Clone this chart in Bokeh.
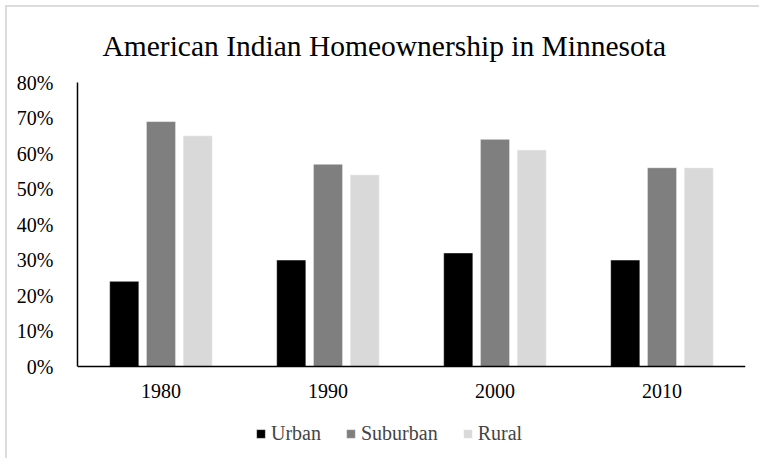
from bokeh.plotting import figure
from bokeh.models import ColumnDataSource, FactorRange, Range1d, Legend, LegendItem, NumeralTickFormatter, FixedTicker, Title, Span
from bokeh.transform import dodge
from bokeh.core.properties import value
from bokeh.embed import file_html
from bokeh.resources import INLINE

years = ["1980", "1990", "2000", "2010"]
urban = [0.24, 0.30, 0.32, 0.30]
suburban = [0.69, 0.57, 0.64, 0.56]
rural = [0.65, 0.54, 0.61, 0.56]
series_names = ["Urban", "Suburban", "Rural"]
colors = ["#000000", "#7f7f7f", "#d9d9d9"]
y_ticks = [0, 0.1, 0.2, 0.3, 0.4, 0.5, 0.6, 0.7, 0.8]

src = ColumnDataSource(dict(year=years, Urban=urban, Suburban=suburban, Rural=rural))

FONT = "Liberation Serif"

# y range extends below zero so the legend and year labels sit inside the frame
p = figure(x_range=FactorRange(factors=years), y_range=Range1d(-0.2535, 0.8),
           width=754, height=453, output_backend="svg", toolbar_location=None,
           min_border_left=70, min_border_right=16, min_border_top=75, min_border_bottom=4)
p.styles = {"margin-left": "5px", "margin-top": "5px",
            "border-left": "2px solid #dcdcdc", "border-top": "2px solid #dcdcdc"}

offsets = [-0.22, 0.0, 0.22]
renderers = []
for name, off, col in zip(series_names, offsets, colors):
    r = p.vbar(x=dodge("year", off, range=p.x_range), top=name, width=0.175, source=src,
               fill_color=col, line_color="white", line_width=1, line_alpha=0.5)
    renderers.append(r)

# x axis line and year labels
p.add_layout(Span(location=0, dimension="width", line_color="black", line_width=1.5))
p.text(x="year", y=-0.07, text="year", source=src, text_font=value(FONT),
       text_font_size="20px", text_align="center", text_baseline="middle", text_color="black")

t = Title(text="American Indian Homeownership in Minnesota", align="left", offset=25,
          text_font=FONT, text_font_size="29.5px", text_font_style="normal",
          text_color="#000000", standoff=41)
p.add_layout(t, "above")

p.xgrid.grid_line_color = None
p.ygrid.grid_line_color = None
p.outline_line_color = None
p.xaxis.visible = False

p.yaxis.ticker = FixedTicker(ticks=y_ticks)
p.yaxis.formatter = NumeralTickFormatter(format="0%")
p.yaxis.bounds = (0, 0.8)
p.yaxis.axis_line_color = "black"
p.yaxis.axis_line_width = 1.5
p.yaxis.major_tick_line_color = None
p.yaxis.minor_tick_line_color = None
p.yaxis.major_label_text_font = FONT
p.yaxis.major_label_text_font_size = "20px"
p.yaxis.major_label_text_color = "black"
p.yaxis.major_label_standoff = 18

legend = Legend(items=[LegendItem(label=n, renderers=[r]) for n, r in zip(series_names, renderers)],
                orientation="horizontal", location=(178, 11),
                label_text_font=FONT, label_text_font_size="20px",
                glyph_width=11, glyph_height=11, spacing=24, label_standoff=5,
                border_line_color=None, background_fill_alpha=0, margin=0, padding=0)
p.add_layout(legend, "center")

open("out.html", "w").write(file_html(p, INLINE))
